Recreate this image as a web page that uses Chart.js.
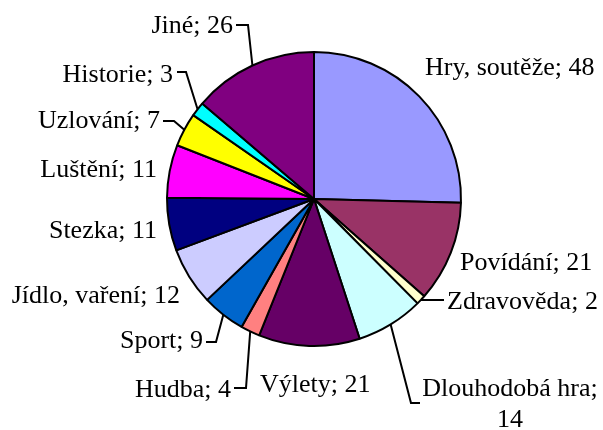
<!DOCTYPE html>
<html>
<head>
<meta charset="utf-8">
<script src="https://cdn.jsdelivr.net/npm/chart.js@4"></script>
<style>
  html, body { margin: 0; padding: 0; background: #fff; }
  #wrap { width: 603px; height: 430px; }
</style>
</head>
<body>
<div id="wrap"><canvas id="c" width="603" height="430"></canvas></div>
<script>
// data, clockwise from 12 o'clock
var categories = ['Hry, soutěže', 'Povídání', 'Zdravověda', 'Dlouhodobá hra', 'Výlety', 'Hudba',
  'Sport', 'Jídlo, vaření', 'Stezka', 'Luštění', 'Uzlování', 'Historie', 'Jiné'];
var counts = [48, 21, 2, 14, 21, 4, 9, 12, 11, 11, 7, 3, 26];
var sliceColors = ['#9999FF', '#993366', '#FFFFCC', '#CCFFFF', '#660066', '#FF8080',
  '#0066CC', '#CCCCFF', '#000080', '#FF00FF', '#FFFF00', '#00FFFF', '#800080'];

// label placement: text anchor x, baseline y, align; leader = [cornerX, cornerY, endX] or null
var labelPos = [
  { x: 425, y: 75, align: 'left', leader: null },
  { x: 460, y: 270, align: 'left', leader: null },
  { x: 447, y: 309, align: 'left', leader: [444, 300, 444] },
  { x: 510, y: 396, align: 'center', leader: [411, 403, 420], wrap: true },
  { x: 260, y: 392, align: 'left', leader: null },
  { x: 231, y: 397, align: 'right', leader: [246, 388, 234] },
  { x: 203, y: 348, align: 'right', leader: [216, 342, 206] },
  { x: 180, y: 303, align: 'right', leader: null },
  { x: 157, y: 238, align: 'right', leader: null },
  { x: 157, y: 177, align: 'right', leader: null },
  { x: 160, y: 128, align: 'right', leader: [174, 121, 163] },
  { x: 173, y: 82, align: 'right', leader: [186, 72, 177] },
  { x: 233, y: 33, align: 'right', leader: [248, 25, 236] }
];

var pieLabels = {
  id: 'pieLabels',
  afterDatasetsDraw: function (chart) {
    var ctx = chart.ctx;
    var arcs = chart.getDatasetMeta(0).data;
    ctx.save();
    ctx.font = '26px "Liberation Serif", "Times New Roman", serif';
    ctx.fillStyle = '#000';
    ctx.strokeStyle = '#000';
    ctx.lineWidth = 2;
    ctx.textBaseline = 'alphabetic';
    arcs.forEach(function (arc, i) {
      var lp = labelPos[i];
      var txt = categories[i] + '; ' + counts[i];
      if (lp.leader) {
        var mid = (arc.startAngle + arc.endAngle) / 2;
        var ax = arc.x + arc.outerRadius * Math.cos(mid);
        var ay = arc.y + arc.outerRadius * Math.sin(mid);
        ctx.beginPath();
        ctx.moveTo(ax, ay);
        ctx.lineTo(lp.leader[0], lp.leader[1]);
        ctx.lineTo(lp.leader[2], lp.leader[1]);
        ctx.stroke();
      }
      ctx.textAlign = lp.align;
      if (lp.wrap) {
        ctx.fillText(categories[i] + ';', lp.x, lp.y);
        ctx.fillText(String(counts[i]), lp.x, lp.y + 31);
      } else {
        ctx.fillText(txt, lp.x, lp.y);
      }
    });
    ctx.restore();
  }
};

new Chart(document.getElementById('c'), {
  type: 'pie',
  data: {
    labels: categories,
    datasets: [{
      data: counts,
      backgroundColor: sliceColors,
      borderColor: '#000',
      borderWidth: 2
    }]
  },
  options: {
    responsive: false,
    animation: false,
    layout: { padding: { left: 165, right: 140, top: 51, bottom: 83 } },
    plugins: {
      legend: { display: false },
      tooltip: { enabled: false }
    }
  },
  plugins: [pieLabels]
});
</script>
</body>
</html>
